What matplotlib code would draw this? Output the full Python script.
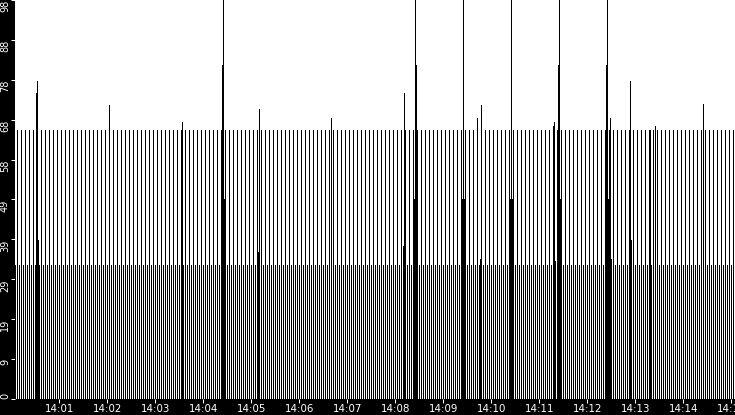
import matplotlib
matplotlib.use("Agg")
import matplotlib.pyplot as plt
import numpy as np

# ---- data -------------------------------------------------------------
# regular samples, seconds after 14:00:00
sample_start = 5.0
sample_step = 2.5
sample_values = [
    33, 66, 33, 66, 33, 66, 33, 66, 33, 66, 33, 66, 33, 66, 33, 66, 33, 66, 33, 66, 33, 66, 33, 66,
    33, 66, 33, 66, 33, 66, 33, 66, 33, 66, 33, 66, 33, 66, 33, 66, 33, 66, 33, 66, 33, 66, 33, 66,
    33, 66, 33, 66, 33, 66, 33, 66, 33, 66, 33, 66, 33, 66, 33, 66, 33, 66, 33, 66, 33, 66, 33, 66,
    33, 66, 33, 66, 33, 66, 33, 66, 33, 66, 33, 66, 33, 66, 33, 66, 33, 66, 33, 66, 33, 66, 33, 66,
    33, 66, 33, 66, 33, 66, 33, 66, 33, 66, 33, 66, 33, 66, 33, 66, 33, 66, 33, 66, 33, 66, 33, 66,
    33, 66, 33, 66, 33, 66, 33, 66, 33, 66, 33, 66, 33, 66, 33, 66, 33, 66, 33, 66, 33, 66, 33, 66,
    33, 66, 33, 66, 33, 66, 33, 66, 33, 66, 33, 66, 33, 66, 33, 66, 33, 66, 33, 66, 33, 66, 33, 66,
    33, 66, 33, 66, 33, 66, 33, 66, 33, 66, 33, 66, 33, 66, 33, 66, 33, 66, 33, 66, 33, 66, 33, 66,
    33, 66, 33, 66, 33, 66, 33, 66, 33, 66, 33, 66, 33, 66, 33, 66, 33, 66, 33, 66, 33, 66, 33, 66,
    33, 66, 33, 66, 33, 66, 33, 66, 33, 66, 33, 66, 33, 66, 33, 66, 33, 66, 33, 66, 33, 66, 33, 66,
    33, 66, 33, 66, 33, 66, 33, 66, 33, 66, 33, 66, 33, 66, 33, 66, 33, 66, 33, 66, 33, 66, 33, 66,
    33, 66, 33, 66, 33, 66, 33, 66, 33, 66, 33, 66, 33, 66, 33, 66, 33, 66, 33, 66, 33, 66, 33, 66,
    33, 66, 33, 66, 33, 66, 33, 66, 33, 66, 33, 66, 33, 66, 33, 66, 33, 66, 33, 66, 33, 66, 33, 66,
    33, 66, 33, 66, 33, 66, 33, 66, 33, 66, 33, 66, 33, 66, 33, 66, 33, 66, 33, 66, 33, 66, 33, 66,
    33, 66, 33, 66, 33, 66, 33, 66, 33, 66, 33, 66, 33, 66, 33, 66, 33, 66, 33, 66, 33, 66, 33, 66,
]

# irregular samples (spikes), seconds after 14:00:00
spike_seconds = [30.25, 31.5, 32.75, 121.5, 171.5, 212.75, 262.75, 264.0, 265.25,
                 307.75, 309.0, 399.0, 489.0, 490.25, 491.5, 502.75, 504.0, 505.25,
                 562.75, 564.0, 565.25, 581.5, 585.25, 586.5, 622.75, 624.0, 625.25,
                 671.5, 676.5, 677.75, 679.0, 682.75, 684.0, 685.25, 742.75, 744.0,
                 745.25, 746.5, 747.75, 749.0, 771.5, 772.75, 774.0, 797.75, 804.0, 864.0]
spike_values = [75.2, 78.1, 39, 72.2, 66, 68.0, 82, 100, 49,
                36, 71.2, 69.0, 37.6, 75.2, 37.6, 49, 100, 82,
                49, 100, 49, 69.0, 34.5, 72.2, 49, 100, 49,
                66, 67.1, 68.0, 34, 82, 100, 49, 82, 100,
                49, 34.5, 69.0, 34.5, 39, 78.1, 39, 66, 67, 72.5]

minute_ticks = list(range(1, 16))
tick_labels_x = ["14:%02d" % m for m in minute_ticks]
y_max = 98
y_ticks = [0, 9.8, 19.6, 29.4, 39.2, 49, 58.8, 68.6, 78.4, 88.2, 98]
y_tick_labels = ["0", "9", "19", "29", "39", "49", "58", "68", "78", "88", "98"]

# ---- figure -----------------------------------------------------------
W, H, DPI = 735, 415, 100
fig = plt.figure(figsize=(W / DPI, H / DPI), dpi=DPI, facecolor="black")
ax = fig.add_axes([15 / W, 16 / H, 720 / W, 399 / H])
ax.set_facecolor("white")

times = sample_start + sample_step * np.arange(len(sample_values))
px = 72.0 / DPI
ax.vlines(times, 0, sample_values, colors="black", linewidths=px,
          antialiased=False, snap=True)
ax.vlines(spike_seconds, 0, spike_values, colors="black", linewidths=px,
          antialiased=False, snap=True)

ax.set_xlim(4.625, 904.625)
ax.set_ylim(0, y_max)

for s in ax.spines.values():
    s.set_visible(False)

ax.set_xticks([60 * m for m in minute_ticks])
ax.set_xticklabels(tick_labels_x)
ax.set_yticks(y_ticks)
ax.set_yticklabels(y_tick_labels, rotation=90)

ax.tick_params(axis="both", colors="white", length=4 * px, width=px,
               direction="out", pad=0.8)
ax.tick_params(axis="x", labelsize=7.4)
ax.tick_params(axis="y", labelsize=7.0, pad=0.8)
for lab in ax.get_yticklabels():
    lab.set_va("top")
ax.get_yticklabels()[0].set_va("bottom")

fig.savefig("out.png", dpi=DPI, facecolor="black")
